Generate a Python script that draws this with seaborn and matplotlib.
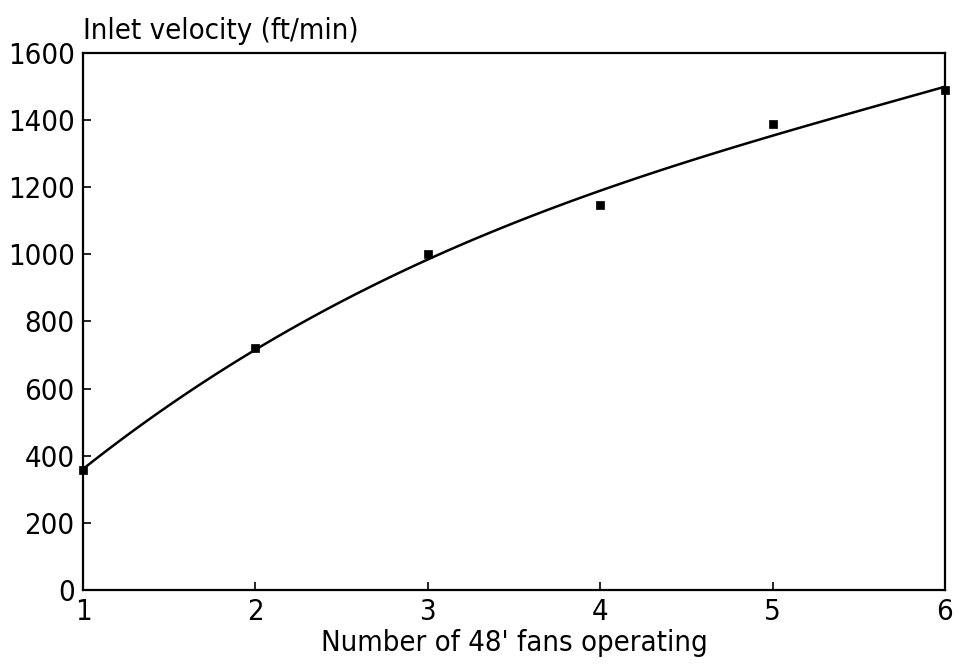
import matplotlib
matplotlib.use("Agg")
import matplotlib.pyplot as plt
from matplotlib import font_manager
import numpy as np
import pandas as pd
import seaborn as sns

# === DATA ===
fans = [1, 2, 3, 4, 5, 6]
velocity = [357, 721, 1001, 1147, 1388, 1490]
x_ticks = [1, 2, 3, 4, 5, 6]
y_ticks = [0, 200, 400, 600, 800, 1000, 1200, 1400, 1600]

df = pd.DataFrame({"fans": fans, "velocity": velocity})

# === STYLE ===
sns.set_style("ticks")
plt.rcParams["font.family"] = ["DejaVu Sans"]
plt.rcParams["font.stretch"] = "condensed"
plt.rcParams["text.color"] = "black"
plt.rcParams["axes.labelcolor"] = "black"
print(sorted({(f.name, f.stretch) for f in font_manager.fontManager.ttflist if "DejaVu" in f.name or "Narrow" in f.name or "Condensed" in f.name}))

fig = plt.figure(figsize=(9.59, 6.68), dpi=100)
ax = fig.add_axes([0.0866, 0.1168, 0.8988, 0.8039])

# fitted curve + measured points
sns.regplot(data=df, x="fans", y="velocity", order=3, ci=None, ax=ax,
            scatter=False, truncate=True,
            line_kws=dict(color="black", linewidth=1.8))
sns.scatterplot(data=df, x="fans", y="velocity", ax=ax, marker="s", s=40,
                color="black", edgecolor="black", zorder=5, clip_on=False)

ax.set_xlim(1, 6)
ax.set_ylim(0, 1600)
ax.set_xticks(x_ticks)
ax.set_yticks(y_ticks)
ax.tick_params(direction="in", length=6, width=1.2, labelsize=21, colors="black",
               pad=6)
for s in ax.spines.values():
    s.set_visible(True)
    s.set_linewidth(1.6)
    s.set_color("black")

ax.set_xlabel("Number of 48' fans operating", fontsize=21, labelpad=2)
ax.set_ylabel("")
ax.text(0.0, 1.015, "Inlet velocity (ft/min)", transform=ax.transAxes,
        fontsize=21, ha="left", va="bottom")

fig.savefig("out.png", dpi=100, facecolor="white")
